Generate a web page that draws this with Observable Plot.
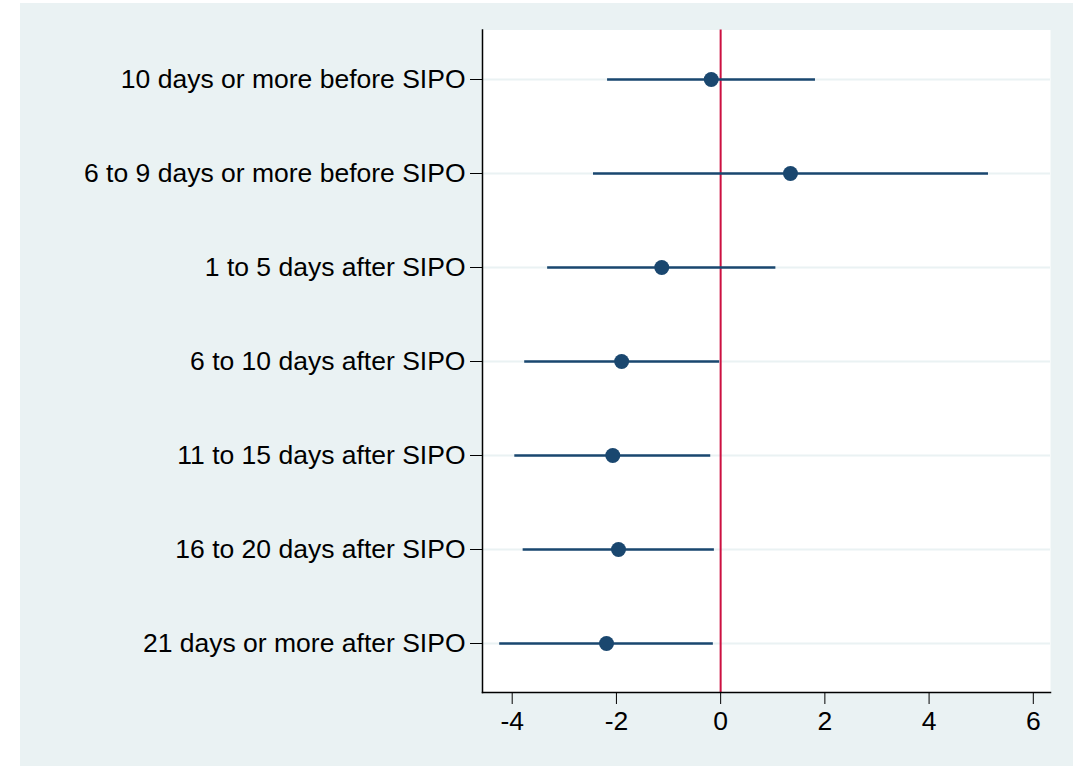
<!DOCTYPE html>
<html>
<head>
<meta charset="utf-8">
<script src="https://cdn.jsdelivr.net/npm/d3@7"></script>
<script src="https://cdn.jsdelivr.net/npm/@observablehq/plot@0.6"></script>
<style>
  html, body { margin: 0; padding: 0; background: #ffffff; }
  #wrap { position: absolute; left: 20px; top: 3px; width: 1053px; height: 763px; background: #eaf2f3; }
</style>
</head>
<body>
<div id="wrap"></div>
<script>
const categories = [
  "10 days or more before SIPO",
  "6 to 9 days or more before SIPO",
  "1 to 5 days after SIPO",
  "6 to 10 days after SIPO",
  "11 to 15 days after SIPO",
  "16 to 20 days after SIPO",
  "21 days or more after SIPO"
];
const estimates = [-0.18, 1.34, -1.13, -1.90, -2.07, -1.96, -2.19];
const ciLow     = [-2.17, -2.44, -3.32, -3.76, -3.95, -3.79, -4.24];
const ciHigh    = [1.82, 5.14, 1.06, -0.02, -0.19, -0.12, -0.14];
const xTicks = [-4, -2, 0, 2, 4, 6];

const rows = categories.map((c, i) => ({cat: c, est: estimates[i], lo: ciLow[i], hi: ciHigh[i]}));

const navy = "#1a476f";
const chart = Plot.plot({
  width: 1053,
  height: 763,
  marginLeft: 462,
  marginTop: 26.5,
  marginRight: 23,
  marginBottom: 74,
  style: {background: "#eaf2f3", fontFamily: "'Liberation Sans', Arial, sans-serif", fontSize: "26.5px", color: "#000"},
  x: {domain: [-4.57, 6.33], ticks: xTicks, label: null},
  y: {type: "point", domain: categories, padding: 0.5, label: null},
  marks: [
    Plot.frame({fill: "white", stroke: "none"}),
    Plot.gridY({stroke: "#eaf2f3", strokeOpacity: 1, strokeWidth: 2}),
    Plot.ruleX([0], {stroke: "#cc1040", strokeWidth: 2}),
    Plot.ruleY(rows, {y: "cat", x1: "lo", x2: "hi", stroke: navy, strokeWidth: 2.5}),
    Plot.dot(rows, {y: "cat", x: "est", r: 7.5, fill: navy, stroke: "none"}),
    Plot.axisY({tickSize: 12, tickPadding: 5, fontSize: 26.5, label: null, stroke: "#000"}),
    Plot.axisX({ticks: xTicks, tickSize: 12, tickPadding: 7, fontSize: 26.5, label: null, stroke: "#000", tickFormat: d => String(d).replace("−", "-")}),
    Plot.frame({anchor: "left", stroke: "#000", strokeWidth: 1.5}),
    Plot.frame({anchor: "bottom", stroke: "#000", strokeWidth: 1.5})
  ]
});
document.getElementById("wrap").appendChild(chart);
</script>
</body>
</html>
